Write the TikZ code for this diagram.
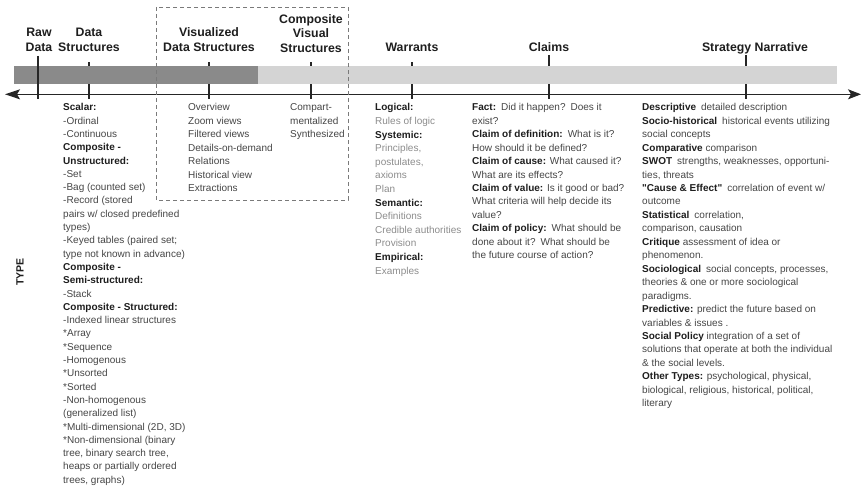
\documentclass[tikz,border=0pt]{standalone}
\usepackage{fontspec}
\setmainfont{Liberation Sans}[Ligatures=TeXOff]
\usetikzlibrary{arrows.meta}
\definecolor{bardark}{HTML}{8A8A8A}
\definecolor{barlight}{HTML}{D4D4D4}
\definecolor{bodytext}{HTML}{454545}
\definecolor{lighttext}{HTML}{8C8C8C}
\definecolor{boldtext}{HTML}{1E1E1E}
\definecolor{boxline}{HTML}{7A7A7A}
\newcommand\hb[1]{\textbf{\color{boldtext}#1}}
\newcommand\topstrut{\rule{0pt}{9.5pt}}
\tikzset{
  hdr/.style={font=\fontsize{12.3}{14.5}\selectfont\bfseries, align=center, inner sep=0pt, anchor=base, text=boldtext},
  body/.style={font=\fontsize{10}{13.45}\selectfont, align=left, inner sep=0pt, anchor=north west, text=bodytext},
  tickline/.style={line width=1.1pt, draw=black!85},
  axisline/.style={line width=1.2pt, draw=black!85, {Stealth[length=15pt,width=10pt,inset=3pt]}-{Stealth[length=13pt,width=10pt,inset=3pt]}},
  dashbox/.style={draw=boxline, line width=0.8pt, dash pattern=on 4pt off 3pt}
}
\begin{document}
\begin{tikzpicture}[x=1pt,y=-1pt]
\useasboundingbox (0,0) rectangle (861,495);
% header labels (anchor = baseline of last line)
\node[hdr] (raw) at (39,51.5) {Raw\\Data};
\node[hdr] (ds) at (89,51.5) {Data\\Structures};
\node[hdr] (vds) at (209,51.5) {Visualized\\Data Structures};
\node[hdr] (cvs) at (311,52.3) {Composite\\Visual\\Structures};
\node[hdr] (war) at (412,51.5) {Warrants};
\node[hdr] (cla) at (549,51.5) {Claims};
\node[hdr] (str) at (755,51.5) {Strategy Narrative};
% tick coordinates
\coordinate (dsT) at (89,62);   \coordinate (dsB) at (89,98.5);
\coordinate (vdsT) at (209,62); \coordinate (vdsB) at (209,98.5);
\coordinate (cvsT) at (311,62); \coordinate (cvsB) at (311,98.5);
\coordinate (warT) at (412,62); \coordinate (warB) at (412,98.5);
\coordinate (claT) at (549,55); \coordinate (claB) at (549,98.5);
\coordinate (strT) at (746,55); \coordinate (strB) at (746,98.5);
\coordinate (rawT) at (38,56);  \coordinate (rawB) at (38,98.5);
% ticks behind bar
\draw[tickline] (dsT) -- (dsB);
\draw[tickline] (vdsT) -- (vdsB);
\draw[tickline] (cvsT) -- (cvsB);
\draw[tickline] (warT) -- (warB);
\draw[tickline] (claT) -- (claB);
\draw[tickline] (strT) -- (strB);
% bar
\fill[barlight] (258,66) rectangle (837,84);
\fill[bardark] (14,66) rectangle (258,84);
% raw data tick in front
\draw[tickline] (rawT) -- (rawB);
% axis
\coordinate (axL) at (5,94.3);
\coordinate (axR) at (861,94.3);
\draw[axisline] (axL) -- (axR);
% dashed box
\draw[dashbox] (156,7) rectangle (348,200);
% TYPE
\node[font=\fontsize{10.5}{12}\selectfont\bfseries, text=boldtext, rotate=90, inner sep=0pt] (type) at (20,272) {TYPE};
% column 1
\node[body, font=\fontsize{10}{13.3}\selectfont] (c1) at (63,101.1) {\topstrut\hb{Scalar:}\\
-Ordinal\\
-Continuous\\
\hb{Composite -}\\
\hb{Unstructured:}\\
-Set\\
-Bag (counted set)\\
-Record (stored\\
pairs w/ closed predefined\\
types)\\
-Keyed tables (paired set;\\
type not known in advance)\\
\hb{Composite -}\\
\hb{Semi-structured:}\\
-Stack\\
\hb{Composite - Structured:}\\
-Indexed linear structures\\
*Array\\
*Sequence\\
-Homogenous\\
*Unsorted\\
*Sorted\\
-Non-homogenous\\
(generalized list)\\
*Multi-dimensional (2D, 3D)\\
*Non-dimensional (binary\\
tree, binary search tree,\\
heaps or partially ordered\\
trees, graphs)};
% column 2
\node[body] (c2) at (188,101.1) {\topstrut Overview\\
Zoom views\\
Filtered views\\
Details-on-demand\\
Relations\\
Historical view\\
Extractions};
% column 3
\node[body] (c3) at (290,101.1) {\topstrut Compart-\\
mentalized\\
Synthesized};
% column 4
\node[body, text=lighttext, font=\fontsize{10}{13.6}\selectfont] (c4) at (375,101.1) {\topstrut\hb{Logical:}\\
Rules of logic\\
\hb{Systemic:}\\
Principles,\\
postulates,\\
axioms\\
Plan\\
\hb{Semantic:}\\
Definitions\\
Credible authorities\\
Provision\\
\hb{Empirical:}\\
Examples};
% column 5
\node[body] (c5) at (472,101.1) {\topstrut\hb{Fact:}\enspace Did it happen?\enspace Does it\\
exist?\\
\hb{Claim of definition:}\enspace What is it?\\
How should it be defined?\\
\hb{Claim of cause:} What caused it?\\
What are its effects?\\
\hb{Claim of value:} Is it good or bad?\\
What criteria will help decide its\\
value?\\
\hb{Claim of policy:}\enspace What should be\\
done about it?\enspace What should be\\
the future course of action?};
% column 6
\node[body] (c6) at (642,101.1) {\topstrut\hb{Descriptive}\enspace detailed description\\
\hb{Socio-historical}\enspace historical events utilizing\\
social concepts\\
\hb{Comparative} comparison\\
\hb{SWOT}\enspace strengths, weaknesses, opportuni-\\
ties, threats\\
\hb{"Cause \& Effect"}\enspace correlation of event w/\\
outcome\\
\hb{Statistical}\enspace correlation,\\
comparison, causation\\
\hb{Critique} assessment of idea or\\
phenomenon.\\
\hb{Sociological}\enspace social concepts, processes,\\
theories \& one or more sociological\\
paradigms.\\
\hb{Predictive:} predict the future based on\\
variables \& issues .\\
\hb{Social Policy} integration of a set of\\
solutions that operate at both the individual\\
\& the social levels.\\
\hb{Other Types:} psychological, physical,\\
biological, religious, historical, political,\\
literary};
\end{tikzpicture}
\end{document}
